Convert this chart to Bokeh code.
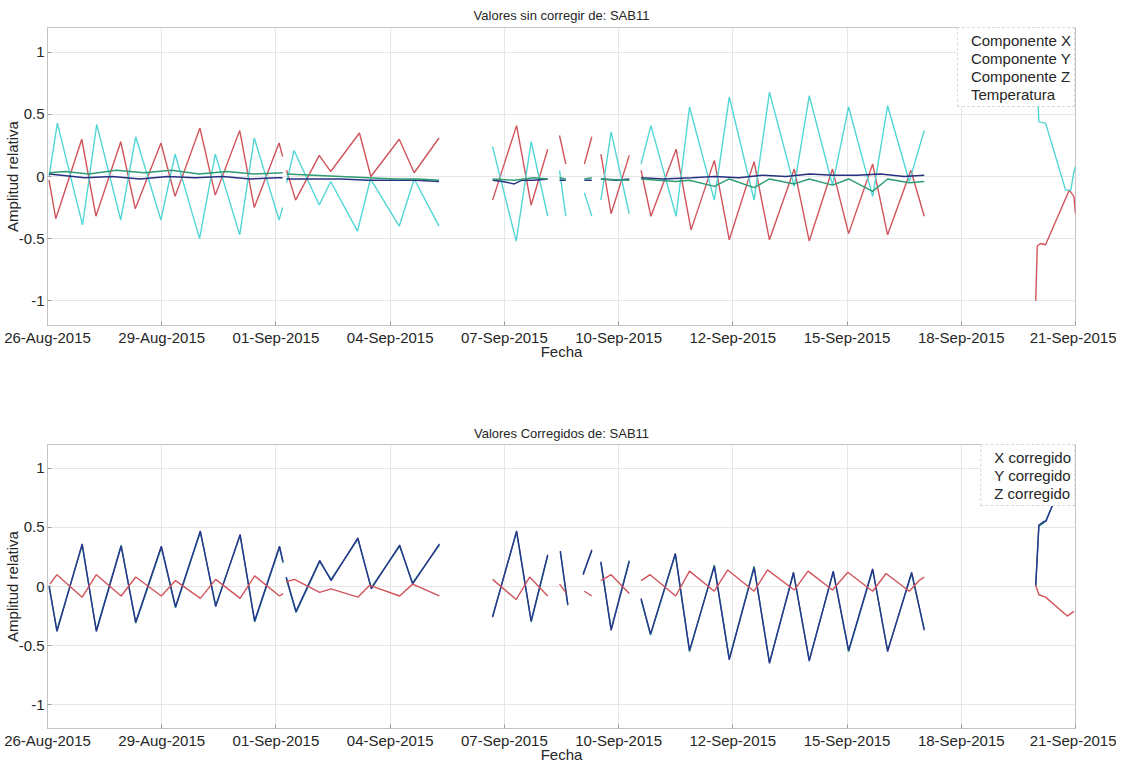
import numpy as np
import pandas as pd
from bokeh.plotting import figure
from bokeh.layouts import column
from bokeh.models import Range1d, FixedTicker, Legend, LegendItem
from bokeh.embed import file_html
from bokeh.resources import INLINE

# ---------------- data (time = days since 2015-08-26 00:00 UTC) ----------------
BASE = pd.Timestamp("2015-08-26")
x_start_day = 0.55
x_end_day = 26.65
x_tick_labels = ["26-Aug-2015", "29-Aug-2015", "01-Sep-2015", "04-Sep-2015", "07-Sep-2015",
                 "10-Sep-2015", "12-Sep-2015", "15-Sep-2015", "18-Sep-2015", "21-Sep-2015"]
y_ticks = [-1, -0.5, 0, 0.5, 1]
y_tick_labels = ["-1", "-0.5", "0", "0.5", "1"]

top_title = "Valores sin corregir de: SAB11"
bottom_title = "Valores Corregidos de: SAB11"
top_labels = ["Componente X", "Componente Y", "Componente Z", "Temperatura"]
bottom_labels = ["X corregido", "Y corregido", "Z corregido"]

N = None
# --- raw values ---
compx_t = [0.59, 0.76, 1.42, 1.78, 2.41, 2.78, 3.43, 3.79, 4.42, 4.81, 5.43, 5.80, 6.43, 6.52, N,
           6.62, 6.85, 7.45, 7.74, 8.47, 8.76, 9.48, 9.86, 10.49, N,
           11.85, 12.46, 12.83, 13.25, N, 13.55, 13.71, N, 14.18, 14.37, N, 14.60, 14.86, 15.32, N,
           15.62, 15.87, 16.51, 16.89, 17.48, 17.86, 18.49, 18.88, 19.51, 19.89, 20.48, 20.89, 21.50, 21.88, 22.47, 22.81, N,
           25.64, 25.68, 25.76, 25.89, 26.49, 26.61, 26.65]
compx_v = [-0.03, -0.34, 0.30, -0.32, 0.28, -0.26, 0.27, -0.16, 0.39, -0.15, 0.37, -0.25, 0.27, 0.16, N,
           0.05, -0.19, 0.17, 0.04, 0.35, 0.00, 0.30, 0.03, 0.31, N,
           -0.19, 0.41, -0.23, 0.22, N, 0.33, 0.10, N, 0.10, 0.32, N, 0.18, -0.30, 0.17, N,
           0.05, -0.32, 0.22, -0.43, 0.13, -0.51, 0.12, -0.51, 0.06, -0.52, 0.06, -0.46, 0.10, -0.47, 0.05, -0.32, N,
           -1.00, -0.56, -0.54, -0.55, -0.11, -0.16, -0.30]

compy_t = [0.59, 0.80, 1.44, 1.80, 2.41, 2.79, 3.43, 3.79, 4.41, 4.81, 5.43, 5.80, 6.43, 6.52, N,
           6.62, 6.81, 7.45, 7.74, 8.42, 8.75, 9.48, 9.86, 10.49, N,
           11.85, 12.45, 12.83, 13.25, N, 13.55, 13.71, N, 14.18, 14.37, N, 14.60, 14.86, 15.32, N,
           15.62, 15.87, 16.51, 16.85, 17.48, 17.86, 18.49, 18.88, 19.51, 19.89, 20.48, 20.89, 21.50, 21.88, 22.43, 22.81, N,
           25.68, 25.72, 25.89, 26.40, 26.53, 26.61, 26.65]
compy_v = [0.00, 0.43, -0.39, 0.42, -0.35, 0.32, -0.35, 0.18, -0.50, 0.18, -0.47, 0.31, -0.35, -0.25, N,
           -0.05, 0.21, -0.23, -0.04, -0.44, -0.02, -0.40, -0.02, -0.40, N,
           0.24, -0.52, 0.28, -0.32, N, 0.05, -0.32, N, -0.13, -0.32, N, -0.19, 0.36, -0.30, N,
           0.10, 0.41, -0.32, 0.56, -0.19, 0.64, -0.19, 0.68, -0.08, 0.65, -0.07, 0.56, -0.16, 0.57, -0.04, 0.37, N,
           0.75, 0.44, 0.43, -0.11, -0.11, 0.04, 0.08]

compz_t = [0.59, 0.90, 1.50, 2.20, 2.90, 3.60, 4.30, 5.00, 5.70, 6.40, 6.52, N,
           6.62, 7.30, 8.00, 8.70, 9.40, 9.90, 10.49, N,
           11.85, 12.10, 12.40, 12.60, 12.90, 13.25, N, 13.55, 13.71, N, 14.18, 14.37, N, 14.60, 15.00, 15.32, N,
           15.62, 16.20, 16.90, 17.50, 18.10, 18.70, 19.30, 19.90, 20.50, 21.10, 21.70, 22.30, 22.81]
compz_v = [0.02, 0.01, -0.01, 0.00, -0.02, 0.00, -0.01, 0.00, -0.02, -0.01, -0.01, N,
           -0.02, -0.02, -0.02, -0.03, -0.03, -0.03, -0.04, N,
           -0.03, -0.04, -0.06, -0.03, -0.03, -0.02, N, -0.03, -0.03, N, -0.03, -0.03, N, -0.02, -0.03, -0.02, N,
           -0.01, -0.02, -0.01, 0.00, -0.01, 0.01, 0.00, 0.02, 0.01, 0.01, 0.02, 0.00, 0.01]

temp_t = [0.59, 1.00, 1.60, 2.30, 3.00, 3.70, 4.40, 5.10, 5.80, 6.52, N,
          6.62, 7.30, 8.00, 8.70, 9.40, 10.00, 10.49, N,
          11.85, 12.40, 12.90, 13.25, N, 13.55, 13.71, N, 14.18, 14.37, N, 14.60, 15.32, N,
          15.62, 16.50, 16.85, 17.48, 17.86, 18.49, 18.88, 19.51, 19.89, 20.48, 20.89, 21.50, 21.88, 22.43, 22.81]
temp_v = [0.03, 0.04, 0.02, 0.05, 0.03, 0.05, 0.02, 0.04, 0.02, 0.03, N,
          0.02, 0.01, 0.00, -0.01, -0.02, -0.02, -0.03, N,
          -0.02, -0.03, -0.01, -0.02, N, -0.01, -0.02, N, -0.02, -0.01, N, -0.02, -0.03, N,
          -0.02, -0.04, -0.03, -0.08, -0.02, -0.09, -0.02, -0.06, -0.02, -0.07, -0.02, -0.12, -0.02, -0.05, -0.04]

# --- corrected values ---
corr_t = [0.59, 0.79, 1.43, 1.79, 2.42, 2.79, 3.44, 3.80, 4.43, 4.82, 5.44, 5.81, 6.44, 6.53, N,
          6.61, 6.86, 7.46, 7.75, 8.43, 8.77, 9.49, 9.82, 10.50, N,
          11.85, 12.46, 12.83, 13.25, N, 13.57, 13.76, N, 14.15, 14.37, N, 14.60, 14.86, 15.32, N,
          15.62, 15.86, 16.49, 16.85, 17.48, 17.86, 18.49, 18.88, 19.49, 19.89, 20.50, 20.89, 21.50, 21.88, 22.49, 22.61, 22.81, N,
          25.64, 25.72, 25.85, 25.90, 26.14, 26.30]
xcorr_v = [0.01, -0.37, 0.35, -0.37, 0.35, -0.31, 0.33, -0.18, 0.46, -0.16, 0.43, -0.30, 0.33, 0.20, N,
           0.07, -0.22, 0.21, 0.06, 0.40, -0.01, 0.34, 0.03, 0.35, N,
           -0.25, 0.46, -0.30, 0.26, N, 0.29, -0.16, N, 0.11, 0.30, N, 0.20, -0.36, 0.22, N,
           -0.11, -0.41, 0.27, -0.55, 0.18, -0.61, 0.17, -0.64, 0.11, -0.62, 0.12, -0.55, 0.14, -0.54, 0.11, -0.07, -0.36, N,
           0.00, 0.51, 0.54, 0.56, 0.74, 0.94]
ycorr_v = [0.00, -0.38, 0.36, -0.38, 0.34, -0.30, 0.34, -0.17, 0.47, -0.17, 0.44, -0.29, 0.34, 0.21, N,
           0.08, -0.21, 0.22, 0.05, 0.41, -0.02, 0.35, 0.02, 0.36, N,
           -0.26, 0.47, -0.29, 0.27, N, 0.30, -0.15, N, 0.10, 0.31, N, 0.21, -0.37, 0.21, N,
           -0.10, -0.40, 0.28, -0.54, 0.17, -0.62, 0.16, -0.65, 0.12, -0.63, 0.13, -0.54, 0.15, -0.55, 0.12, -0.06, -0.37, N,
           0.01, 0.52, 0.55, 0.55, 0.75, 0.95]
zcorr_t = [0.61, 0.79, 1.43, 1.79, 2.42, 2.79, 3.44, 3.80, 4.43, 4.82, 5.44, 5.81, 6.44, 6.53, N,
           6.61, 6.82, 7.46, 7.75, 8.43, 8.73, 9.49, 9.82, 10.50, N,
           11.85, 12.45, 12.79, 13.25, N, 13.55, 13.71, N, 14.18, 14.37, N, 14.60, 14.86, 15.32, N,
           15.62, 15.85, 16.50, 16.85, 17.48, 17.82, 18.49, 18.83, 19.51, 19.86, 20.48, 20.87, 21.50, 21.84, 22.43, 22.68, 22.81, N,
           25.64, 25.72, 25.89, 26.44, 26.61]
zcorr_v = [0.02, 0.10, -0.09, 0.10, -0.08, 0.08, -0.08, 0.05, -0.10, 0.06, -0.10, 0.09, -0.08, -0.06, N,
           0.04, 0.06, -0.05, -0.02, -0.09, 0.01, -0.08, 0.02, -0.08, N,
           0.06, -0.11, 0.08, -0.08, N, 0.02, -0.05, N, -0.04, -0.08, N, 0.05, 0.10, -0.06, N,
           0.05, 0.10, -0.08, 0.13, -0.04, 0.14, -0.04, 0.14, -0.03, 0.13, -0.03, 0.12, -0.04, 0.11, -0.04, 0.05, 0.08, N,
           0.01, -0.07, -0.09, -0.25, -0.21]

# ---------------- helpers ----------------
DAY_MS = 86400000.0
BASE_MS = BASE.value // 10**6


def to_ms(days):
    return BASE_MS + np.array(days, dtype=float) * DAY_MS


def to_vals(vals):
    return np.array(vals, dtype=float)


start_ms = BASE_MS + x_start_day * DAY_MS
end_ms = BASE_MS + x_end_day * DAY_MS
x_ticks = [int(round(v)) for v in np.linspace(start_ms, end_ms, len(x_tick_labels))]

FONT = "Liberation Sans"
TXT = "#262626"


def make_panel(title, series, labels, height, border_bottom, title_standoff):
    p = figure(width=1116, height=height, x_axis_type="datetime",
               x_range=Range1d(start_ms, end_ms), y_range=Range1d(-1.2, 1.2),
               output_backend="svg", toolbar_location=None,
               min_border_left=47, min_border_right=41, min_border_top=24,
               min_border_bottom=border_bottom)
    p.title.text = title
    p.title.align = "center"
    p.title.text_font = FONT
    p.title.text_font_size = "13px"
    p.title.text_font_style = "normal"
    p.title.text_color = TXT
    p.title.standoff = title_standoff

    xt = FixedTicker(ticks=x_ticks)
    yt = FixedTicker(ticks=y_ticks)
    p.xaxis.ticker = xt
    p.xgrid.ticker = xt
    p.yaxis.ticker = yt
    p.ygrid.ticker = yt
    p.xaxis.major_label_overrides = {k: lab for k, lab in zip(x_ticks, x_tick_labels)}
    p.yaxis.major_label_overrides = {k: lab for k, lab in zip(y_ticks, y_tick_labels)}

    for ax in (p.xaxis[0], p.yaxis[0]):
        ax.major_label_text_font = FONT
        ax.major_label_text_font_size = "15px"
        ax.major_label_text_color = TXT
        ax.axis_label_text_font = FONT
        ax.axis_label_text_font_size = "15px"
        ax.axis_label_text_font_style = "normal"
        ax.axis_label_text_color = TXT
        ax.major_tick_in = 4
        ax.major_tick_out = 0
        ax.minor_tick_in = 0
        ax.minor_tick_out = 0
        ax.major_tick_line_color = "#9a9a9a"
        ax.axis_line_color = "#c4c4c4"
    p.xaxis.axis_label = "Fecha"
    p.xaxis.major_label_standoff = 3
    p.xaxis.axis_label_standoff = -6
    p.yaxis.axis_label = "Amplitud relativa"
    p.yaxis.major_label_standoff = 3
    p.yaxis.axis_label_standoff = -5

    p.xgrid.grid_line_color = "#e6e6e6"
    p.ygrid.grid_line_color = "#e6e6e6"
    p.outline_line_color = "#c4c4c4"
    p.background_fill_color = "white"
    p.border_fill_color = "white"

    items = []
    for (t, v, color), lab in zip(series, labels):
        r = p.line(to_ms(t), to_vals(v), line_color=color, line_width=1.4)
        items.append(LegendItem(label=lab, renderers=[r]))

    leg = Legend(items=items, location="top_right")
    leg.margin = 0
    leg.padding = 3
    leg.spacing = 0
    leg.glyph_width = 0
    leg.glyph_height = 18
    leg.label_height = 18
    leg.label_standoff = 10
    leg.label_text_font = FONT
    leg.label_text_font_size = "15px"
    leg.label_text_color = TXT
    leg.border_line_color = "#b3b3b3"
    leg.border_line_dash = "2 1"
    leg.background_fill_color = "white"
    leg.background_fill_alpha = 1.0
    p.add_layout(leg)
    return p


p1 = make_panel(top_title,
                [(compx_t, compx_v, "#d1545c"),
                 (compy_t, compy_v, "#52d6d6"),
                 (compz_t, compz_v, "#27317f"),
                 (temp_t, temp_v, "#2f9c74")],
                top_labels, 419, 94, 10)

p2 = make_panel(bottom_title,
                [(corr_t, xcorr_v, "#1f8478"),
                 (corr_t, ycorr_v, "#2a3590"),
                 (zcorr_t, zcorr_v, "#d1545c")],
                bottom_labels, 346, 28, 8)

layout = column(p1, p2, spacing=0)
open("out.html", "w").write(file_html(layout, INLINE))
